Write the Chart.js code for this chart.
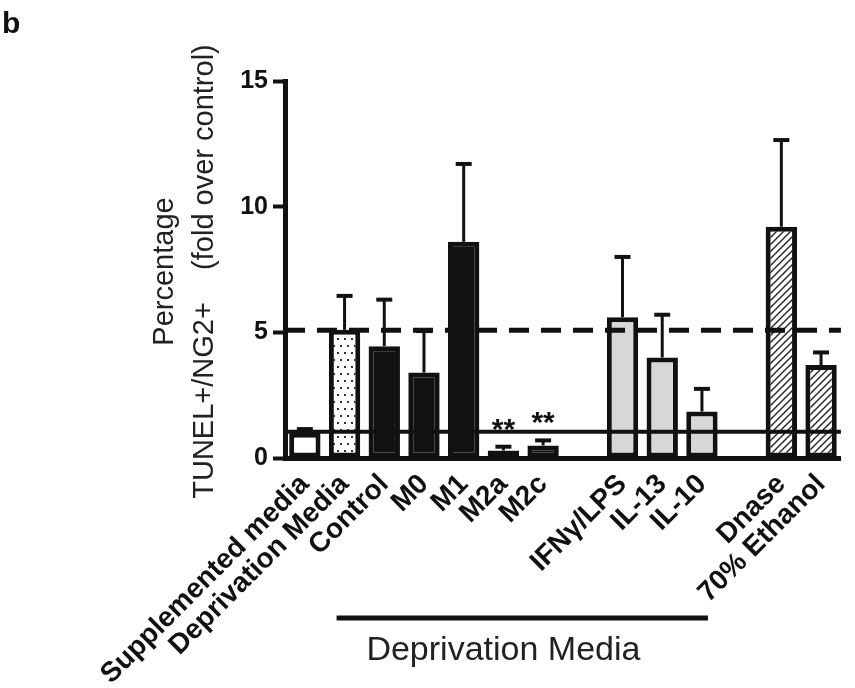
<!DOCTYPE html>
<html>
<head>
<meta charset="utf-8">
<script src="https://cdn.jsdelivr.net/npm/chart.js@4.4.1/dist/chart.umd.min.js"></script>
<style>
  html, body { margin: 0; padding: 0; background: #fff; }
  #wrap { width: 855px; height: 688px; }
</style>
</head>
<body>
<div id="wrap"><canvas id="myChart" width="855" height="688"></canvas></div>
<script>
// values (fold over control)
const labels = ["Supplemented media", "Deprivation Media", "Control", "M0", "M1", "M2a", "M2c", "",
  "IFNγ/LPS", "IL-13", "IL-10", "", "Dnase", "70% Ethanol"];
const means = [1.0, 5.1, 4.45, 3.4, 8.6, 0.3, 0.5, null, 5.6, 4.0, 1.85, null, 9.2, 3.7];
const errors = [0.15, 1.35, 1.85, 1.65, 3.1, 0.15, 0.2, null, 2.4, 1.7, 0.9, null, 3.45, 0.5];
const stars = ["", "", "", "", "", "**", "**", "", "", "", "", "", "", ""];
const yTicks = [0, 5, 10, 15];
const deprivationLevel = 5.08;
const supplementedLevel = 1.04;
const groupLabel = "Deprivation Media";

// fill kind per bar
const barKinds = ["white", "dots", "black", "black", "black", "black", "black", "",
  "gray", "gray", "gray", "", "hatch", "hatch"];

const family = '"Liberation Sans", Arial, Helvetica, sans-serif';
const ink = "#111";

function makePattern(ctx, kind) {
  const c = document.createElement("canvas");
  const g = c.getContext("2d");
  if (kind === "dots") {
    c.width = 7; c.height = 14;
    g.fillStyle = "#fff"; g.fillRect(0, 0, 7, 14);
    g.fillStyle = "#333";
    g.fillRect(1, 2, 2, 2);
    g.fillRect(4, 9, 2, 2);
  } else {
    c.width = 7; c.height = 7;
    g.fillStyle = "#fff"; g.fillRect(0, 0, 7, 7);
    g.strokeStyle = "#222"; g.lineWidth = 1.4;
    g.beginPath();
    g.moveTo(-1, 8); g.lineTo(8, -1);
    g.moveTo(-1, 1); g.lineTo(1, -1);
    g.moveTo(6, 8); g.lineTo(8, 6);
    g.stroke();
  }
  return ctx.createPattern(c, "repeat");
}

const ctx = document.getElementById("myChart").getContext("2d");
const fillFor = {
  white: "#ffffff",
  black: ink,
  gray: "#d5d7d9",
  dots: makePattern(ctx, "dots"),
  hatch: makePattern(ctx, "hatch")
};

const extras = {
  id: "extras",
  afterDatasetsDraw(chart) {
    const { ctx, chartArea, scales: { x, y } } = chart;
    const meta = chart.getDatasetMeta(0);
    ctx.save();
    ctx.strokeStyle = ink;
    ctx.fillStyle = ink;

    // reference lines
    ctx.lineWidth = 5;
    ctx.setLineDash([20, 12]);
    let py = y.getPixelForValue(deprivationLevel);
    ctx.beginPath(); ctx.moveTo(chartArea.left, py); ctx.lineTo(chartArea.right, py); ctx.stroke();
    ctx.setLineDash([]);
    ctx.lineWidth = 4;
    py = y.getPixelForValue(supplementedLevel);
    ctx.beginPath(); ctx.moveTo(chartArea.left, py); ctx.lineTo(chartArea.right, py); ctx.stroke();

    // error bars + significance
    ctx.font = "bold 30px " + family;
    ctx.textAlign = "center";
    ctx.textBaseline = "alphabetic";
    meta.data.forEach((bar, i) => {
      if (means[i] == null) return;
      const top = y.getPixelForValue(means[i] + errors[i]);
      ctx.lineWidth = 3;
      ctx.beginPath(); ctx.moveTo(bar.x, bar.y); ctx.lineTo(bar.x, top); ctx.stroke();
      ctx.lineWidth = 4;
      ctx.beginPath(); ctx.moveTo(bar.x - 8, top); ctx.lineTo(bar.x + 8, top); ctx.stroke();
      if (stars[i]) ctx.fillText(stars[i], bar.x, top - 8);
    });

    // group bracket under the labels
    const bx0 = x.getPixelForValue(1) - 8;
    const bx1 = x.getPixelForValue(10) + 6;
    ctx.lineWidth = 5;
    ctx.beginPath(); ctx.moveTo(bx0, 618); ctx.lineTo(bx1, 618); ctx.stroke();
    ctx.fillStyle = "#222";
    ctx.font = "34px " + family;
    ctx.fillText(groupLabel, x.getPixelForValue(5), 660);

    // y axis title
    const cy = (chartArea.top + chartArea.bottom) / 2 + 2;
    ctx.font = "29px " + family;
    ctx.textBaseline = "middle";
    ctx.translate(165, cy);
    ctx.rotate(-Math.PI / 2);
    ctx.fillText("Percentage", 0, 0);
    ctx.fillText("TUNEL+/NG2+    (fold over control)", 0, 40);
    ctx.setTransform(1, 0, 0, 1, 0, 0);

    // panel letter
    ctx.fillStyle = ink;
    ctx.font = "bold 30px " + family;
    ctx.textAlign = "left";
    ctx.textBaseline = "alphabetic";
    ctx.fillText("b", 2, 33);
    ctx.restore();
  }
};

new Chart(ctx, {
  type: "bar",
  data: {
    labels: labels,
    datasets: [{
      data: means,
      backgroundColor: barKinds.map(k => fillFor[k] || "#fff"),
      borderColor: ink,
      borderWidth: 5,
      borderSkipped: false,
      barPercentage: 0.79,
      categoryPercentage: 1
    }]
  },
  options: {
    responsive: false,
    animation: false,
    layout: { padding: { top: 81, right: 5, left: 0, bottom: 0 } },
    plugins: { legend: { display: false }, tooltip: { enabled: false } },
    scales: {
      x: {
        grid: { display: false, drawTicks: false },
        border: { display: true, color: ink, width: 5 },
        ticks: {
          autoSkip: false, maxRotation: 45, minRotation: 45, padding: 10,
          color: ink, font: { family: family, size: 28, weight: "bold" }
        },
        afterFit: s => { s.height = 230; }
      },
      y: {
        min: 0, max: 15,
        afterBuildTicks: s => { s.ticks = yTicks.map(v => ({ value: v })); },
        grid: { drawOnChartArea: false, tickLength: 12, tickWidth: 4, color: ink },
        border: { display: true, color: ink, width: 5 },
        ticks: { padding: 5, color: ink, font: { family: family, size: 25, weight: "bold" } },
        afterFit: s => { s.width = 285; }
      }
    }
  },
  plugins: [extras]
});
</script>
</body>
</html>
